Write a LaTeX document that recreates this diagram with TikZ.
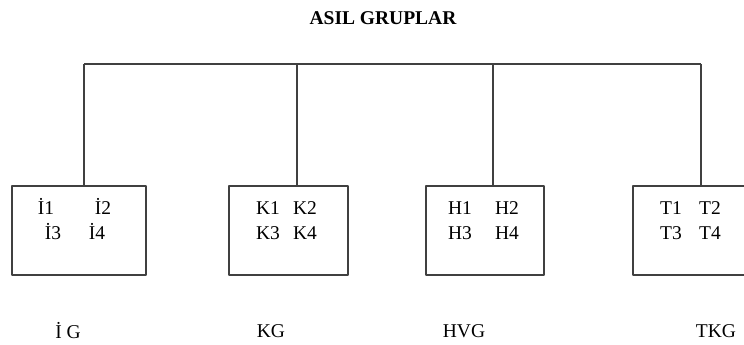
\documentclass[tikz,border=0pt]{standalone}
\usepackage{fontspec}
\setmainfont{Liberation Serif}
\begin{document}
\begin{tikzpicture}[line join=bevel,
  grupbox/.style={draw=black!75,line width=1.3pt,minimum height=89bp,inner sep=0pt},
  uye/.style={anchor=base,inner sep=0pt,font=\fontsize{19.5bp}{22bp}\selectfont},
  etiket/.style={inner sep=0pt,font=\fontsize{19.5bp}{22bp}\selectfont},
  hat/.style={black!75,line width=1.3pt}]
\useasboundingbox (0bp,0bp) rectangle (744bp,345bp);
%%
\node (baslik) at (383bp,327bp) [font=\fontsize{19.5bp}{22bp}\selectfont\bfseries,inner sep=0pt] {ASIL GRUPLAR};
  \coordinate (bus_0) at (84bp,281bp);
  \coordinate (bus_1) at (297bp,281bp);
  \coordinate (bus_2) at (493bp,281bp);
  \coordinate (bus_3) at (701bp,281bp);
  \node (grup_0) at (79bp,114.5bp) [grupbox,minimum width=134bp] {};
  \node (grup_1) at (288.5bp,114.5bp) [grupbox,minimum width=119bp] {};
  \node (grup_2) at (485bp,114.5bp) [grupbox,minimum width=118bp] {};
  \node (grup_3) at (693bp,114.5bp) [grupbox,minimum width=120bp] {};
%
  \node (i1) at (46bp,130bp) [uye] {İ1};
  \node (i2) at (103bp,130bp) [uye] {İ2};
  \node (i3) at (53bp,105bp) [uye] {İ3};
  \node (i4) at (97bp,105bp) [uye] {İ4};
  \node (k1) at (268bp,130bp) [uye] {K1};
  \node (k2) at (305bp,130bp) [uye] {K2};
  \node (k3) at (268bp,105bp) [uye] {K3};
  \node (k4) at (305bp,105bp) [uye] {K4};
  \node (h1) at (460bp,130bp) [uye] {H1};
  \node (h2) at (507bp,130bp) [uye] {H2};
  \node (h3) at (460bp,105bp) [uye] {H3};
  \node (h4) at (507bp,105bp) [uye] {H4};
  \node (t1) at (671bp,130bp) [uye] {T1};
  \node (t2) at (710bp,130bp) [uye] {T2};
  \node (t3) at (671bp,105bp) [uye] {T3};
  \node (t4) at (710bp,105bp) [uye] {T4};
%
  \node (ad_0) at (68bp,14bp) [etiket] {İ G};
  \node (ad_1) at (271bp,14bp) [etiket] {KG};
  \node (ad_2) at (464bp,14bp) [etiket] {HVG};
  \node (ad_3) at (716bp,14bp) [etiket] {TKG};
%
  \draw [hat] (bus_0) -- (bus_3);
  \draw [hat] (bus_0) -- (bus_0 |- grup_0.north);
  \draw [hat] (bus_1) -- (bus_1 |- grup_1.north);
  \draw [hat] (bus_2) -- (bus_2 |- grup_2.north);
  \draw [hat] (bus_3) -- (bus_3 |- grup_3.north);
%
\end{tikzpicture}
\end{document}
